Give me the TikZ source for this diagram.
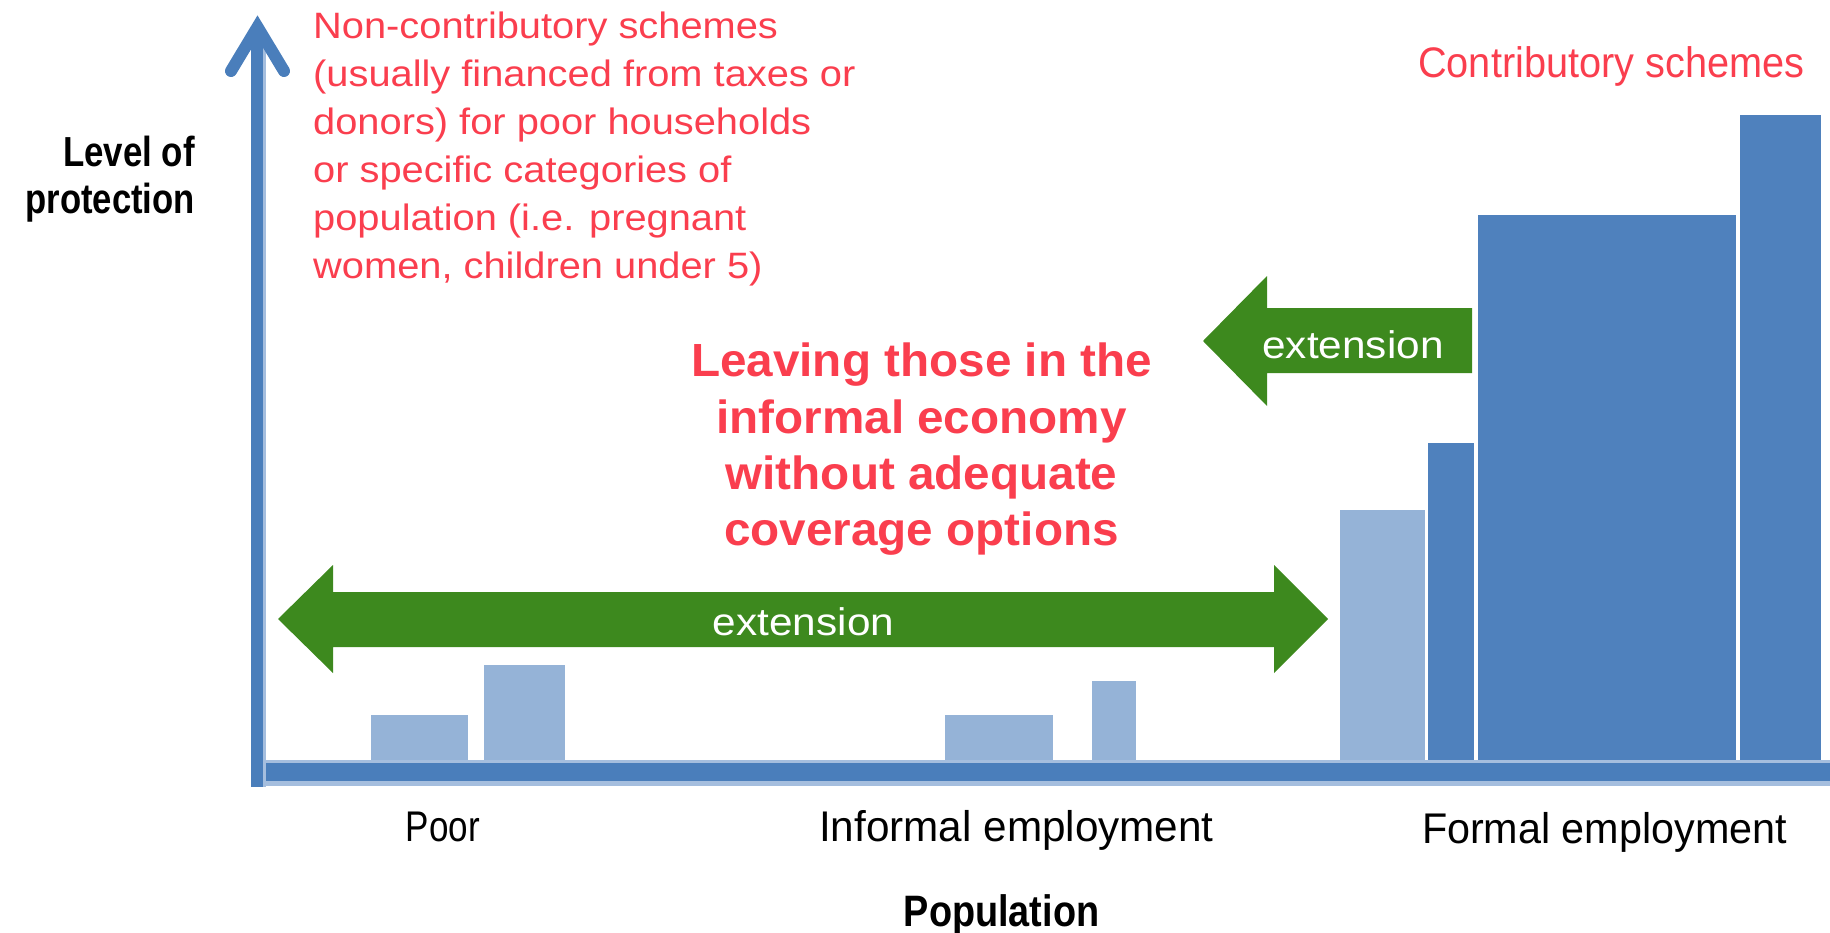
\documentclass[tikz,border=0pt]{standalone}
\usepackage{graphicx}
\usepackage{fontspec}
\setmainfont{Liberation Sans}
\newfontfamily\fNon[FakeStretch=1.085]{Liberation Sans}
\newfontfamily\fLeave[FakeStretch=1.025]{Liberation Sans}
\newfontfamily\fExt[FakeStretch=1.1]{Liberation Sans}
\newfontfamily\fContr[FakeStretch=0.93]{Liberation Sans}
\definecolor{axisblue}{RGB}{74,126,187}
\definecolor{axislight}{RGB}{165,190,222}
\definecolor{darkbar}{RGB}{79,129,189}
\definecolor{lightbar}{RGB}{149,179,215}
\definecolor{arrowgreen}{RGB}{61,137,30}
\definecolor{redtext}{RGB}{250,62,78}
\begin{document}
\begin{tikzpicture}[x=1pt,y=-1pt,
  lbl/.style={inner sep=0pt, anchor=base},
  nonline/.style={inner sep=0pt, anchor=base west, text=redtext, font=\fNon\fontsize{36.7}{44}\selectfont},
  leaveline/.style={inner sep=0pt, anchor=base, text=redtext, font=\fLeave\bfseries\fontsize{46.5}{56}\selectfont},
  extlabel/.style={inner sep=0pt, anchor=base, text=white, font=\fExt\fontsize{38.5}{46}\selectfont},
  axislabel/.style={inner sep=0pt, anchor=base, text=black, font=\fontsize{42.9}{50}\selectfont},
  titlelabel/.style={inner sep=0pt, text=black, font=\bfseries\fontsize{42}{50}\selectfont},
  darkbarfill/.style={fill=darkbar},
  lightbarfill/.style={fill=lightbar},
  greenarrow/.style={fill=arrowgreen}]
\useasboundingbox (0,0) rectangle (1830,933);

% bars
\fill[lightbarfill] (371,715) rectangle (468,772);
\fill[lightbarfill] (484,665) rectangle (565,772);
\fill[lightbarfill] (945,715) rectangle (1053,772);
\fill[lightbarfill] (1092,681) rectangle (1136,772);
\fill[lightbarfill] (1340,510) rectangle (1425,772);
\fill[darkbarfill] (1428,443) rectangle (1474,772);
\fill[darkbarfill] (1478,215) rectangle (1736,772);
\fill[darkbarfill] (1740,115) rectangle (1821,772);

% axes
\fill[axislight] (251,760) rectangle (1830,786);
\fill[axisblue] (251,763) rectangle (1830,781);
\fill[axislight] (262,40) rectangle (266,787);
\fill[axisblue] (251,32) rectangle (263,787);
\draw[axisblue, line width=12, line cap=round, line join=miter] (231,71) -- (257.5,27) -- (284,71);

% green arrows
\fill[greenarrow] (278,619) -- (333,565) -- (333,592) -- (1274,592) -- (1274,565)
  -- (1328,619) -- (1274,673) -- (1274,647) -- (333,647) -- (333,673) -- cycle;
\fill[greenarrow] (1203,341) -- (1267,276) -- (1267,308) -- (1472,308) -- (1472,373)
  -- (1267,373) -- (1267,406) -- cycle;
\node[extlabel] (extup) at (1353,358) {extension};
\node[extlabel] (extlow) at (803.5,635) {extension};

% red texts
\node[nonline] (non1) at (313,38.5) {Non-contributory schemes};
\node[nonline] (non2) at (313,86.5) {(usually financed from taxes or};
\node[nonline] (non3) at (313,134.5) {donors) for poor households};
\node[nonline] (non4) at (313,182.5) {or specific categories of};
\node[nonline] (non5) at (313,230.5) {population (i.e. pregnant};
\node[nonline] (non6) at (313,278.5) {women, children under 5)};

\node[inner sep=0pt, anchor=base west, text=redtext, font=\fContr\fontsize{42.7}{50}\selectfont] (contr) at (1418,77.3) {Contributory schemes};

\node[leaveline] (leave1) at (921.5,376.7) {Leaving those in the};
\node[leaveline] (leave2) at (921.5,433.1) {informal economy};
\node[leaveline] (leave3) at (921.5,489.5) {without adequate};
\node[leaveline] (leave4) at (921.5,545.9) {coverage options};

% black labels
\node[titlelabel, anchor=base east] (level) at (195,166.7) {\scalebox{0.83}[1]{Level of}};
\node[titlelabel, anchor=base east] (prot) at (195,213.5) {\scalebox{0.825}[1]{protection}};
\node[axislabel] (poor) at (443,841.7) {\scalebox{0.817}[1]{Poor}};
\node[axislabel] (informal) at (1016.5,841.7) {\scalebox{0.985}[1]{Informal employment}};
\node[axislabel] (formal) at (1604.5,843) {\scalebox{0.963}[1]{Formal employment}};
\node[titlelabel, anchor=base, font=\bfseries\fontsize{44}{50}\selectfont] (popu) at (1001.5,926.7) {\scalebox{0.86}[1]{Population}};
\end{tikzpicture}
\end{document}
